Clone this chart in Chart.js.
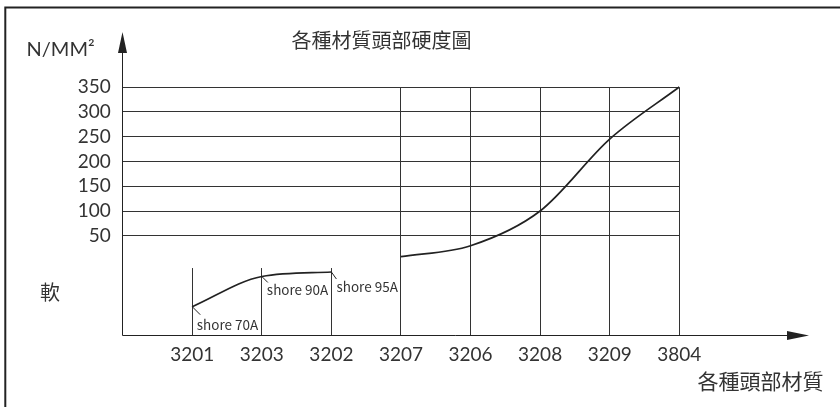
<!DOCTYPE html>
<html><head><meta charset="utf-8">
<script src="https://cdn.jsdelivr.net/npm/chart.js@4.4.1/dist/chart.umd.min.js"></script>
<style>html,body{margin:0;padding:0;background:#fff;overflow:hidden}#wrap{position:relative;width:840px;height:407px}</style>
</head><body><div id="wrap"><canvas id="c" width="840" height="407"></canvas></div>
<script>
// ---- data ----
const categories = ['3201', '3203', '3202', '3207', '3206', '3208', '3209', '3804'];
const softMaterials = ['3201', '3203', '3202'];
const softValues = [-93, -32, -23];
const shoreLabels = ['shore 70A', 'shore 90A', 'shore 95A'];
const hardMaterials = ['3207', '3206', '3208', '3209', '3804'];
const hardValues = [8, 30, 100, 245, 350];
const yTicks = [50, 100, 150, 200, 250, 300, 350];
const softTop = -15;
const chartTitle = '各種材質頭部硬度圖';
const yUnit = 'N/MM²';
const softLabel = '軟';
const xTitle = '各種頭部材質';

const idx = c => categories.indexOf(c) + 1;
const softData = softMaterials.map((c, i) => ({ x: idx(c), y: softValues[i] }));
const hardData = hardMaterials.map((c, i) => ({ x: idx(c), y: hardValues[i] }));

const INK = '#222';
const TXT = '#333';
const LATIN = 'Lato, "DejaVu Sans", sans-serif';
const CJK = '"Noto Sans CJK TC", "Noto Sans CJK SC", sans-serif';
const crisp = v => Math.round(v - 0.5) + 0.5;

const drawing = {
  id: 'drawing',
  beforeDatasetsDraw(chart) {
    const { ctx, scales: { x, y } } = chart;
    ctx.save();
    // frame
    ctx.strokeStyle = INK; ctx.lineWidth = 2;
    ctx.beginPath(); ctx.moveTo(5.3, 407); ctx.lineTo(5.3, 7.5); ctx.lineTo(840, 7.5); ctx.stroke();
    // horizontal grid
    ctx.strokeStyle = '#333'; ctx.lineWidth = 1;
    const x0 = x.getPixelForValue(0), xEnd = x.getPixelForValue(categories.length);
    yTicks.forEach(v => {
      const py = crisp(y.getPixelForValue(v));
      ctx.beginPath(); ctx.moveTo(x0, py); ctx.lineTo(xEnd, py); ctx.stroke();
    });
    const yBottom = y.getPixelForValue(y.min);
    hardMaterials.forEach(c => {
      const px = crisp(x.getPixelForValue(idx(c)));
      ctx.beginPath(); ctx.moveTo(px, crisp(y.getPixelForValue(yTicks[yTicks.length - 1]))); ctx.lineTo(px, yBottom); ctx.stroke();
    });
    softMaterials.forEach(c => {
      const px = crisp(x.getPixelForValue(idx(c)));
      ctx.beginPath(); ctx.moveTo(px, y.getPixelForValue(softTop)); ctx.lineTo(px, yBottom); ctx.stroke();
    });
    // axes with arrows
    const ax = crisp(x.getPixelForValue(0)), ay = crisp(y.getPixelForValue(y.min));
    const tipY = y.getPixelForValue(y.max), tipX = x.getPixelForValue(x.max);
    ctx.strokeStyle = INK; ctx.fillStyle = INK;
    ctx.beginPath(); ctx.moveTo(ax, ay); ctx.lineTo(ax, tipY + 20); ctx.stroke();
    ctx.beginPath(); ctx.moveTo(ax, tipY); ctx.lineTo(ax - 4.5, tipY + 21); ctx.lineTo(ax + 4.5, tipY + 21); ctx.closePath(); ctx.fill();
    ctx.beginPath(); ctx.moveTo(ax, ay); ctx.lineTo(tipX - 20, ay); ctx.stroke();
    ctx.beginPath(); ctx.moveTo(tipX, ay); ctx.lineTo(tipX - 22, ay - 4.5); ctx.lineTo(tipX - 22, ay + 4.5); ctx.closePath(); ctx.fill();
    ctx.restore();
  },
  afterDraw(chart) {
    const { ctx, scales: { x, y } } = chart;
    ctx.save();
    ctx.fillStyle = TXT; ctx.textBaseline = 'middle';
    ctx.font = '20px ' + CJK; ctx.textAlign = 'center';
    ctx.fillText(chartTitle, 381.5, 40);
    ctx.fillText(softLabel, 50, 292);
    ctx.font = '21px ' + CJK; ctx.textAlign = 'right';
    ctx.fillText(xTitle, 823.5, 381);
    ctx.font = '20px ' + LATIN; ctx.textAlign = 'left';
    ctx.fillText(yUnit, 26.5, 50);
    // shore leaders and labels
    const leader = [[8, 8], [6, 6], [5, 7]];
    const lab = [[4.5, 18], [5, 13], [5, 15]];
    ctx.strokeStyle = INK; ctx.lineWidth = 1;
    ctx.font = '13.5px ' + CJK;
    softData.forEach((p, i) => {
      const px = x.getPixelForValue(p.x), py = y.getPixelForValue(p.y);
      ctx.beginPath(); ctx.moveTo(px, py); ctx.lineTo(px + leader[i][0], py + leader[i][1]); ctx.stroke();
      ctx.fillText(shoreLabels[i], px + lab[i][0], py + lab[i][1]);
    });
    ctx.restore();
  }
};

new Chart(document.getElementById('c'), {
  type: 'line',
  data: {
    datasets: [
      { data: softData, borderColor: INK, borderWidth: 1.7, pointRadius: 0, cubicInterpolationMode: 'monotone', fill: false },
      { data: hardData, borderColor: INK, borderWidth: 1.7, pointRadius: 0, cubicInterpolationMode: 'monotone', fill: false }
    ]
  },
  options: {
    responsive: false, animation: false, devicePixelRatio: 1,
    layout: { padding: { top: 32, right: 31, left: 0, bottom: 0 } },
    plugins: { legend: { display: false }, tooltip: { enabled: false }, title: { display: false } },
    scales: {
      x: {
        type: 'linear', min: 0, max: 9.865,
        grid: { display: false, drawTicks: false }, border: { display: false },
        afterBuildTicks: a => { a.ticks = categories.map((c, i) => ({ value: i + 1 })); },
        afterFit: a => { a.height = 72; },
        ticks: { autoSkip: false, maxRotation: 0, padding: 8, color: TXT, font: { family: LATIN, size: 19 },
          callback: v => categories[v - 1] || '' }
      },
      y: {
        type: 'linear', min: -150, max: 461,
        grid: { display: false, drawTicks: false }, border: { display: false },
        afterBuildTicks: a => { a.ticks = yTicks.map(v => ({ value: v })); },
        afterFit: a => { a.width = 122.7; },
        ticks: { padding: 12, color: TXT, font: { family: LATIN, size: 19 } }
      }
    }
  },
  plugins: [drawing]
});
</script></body></html>
